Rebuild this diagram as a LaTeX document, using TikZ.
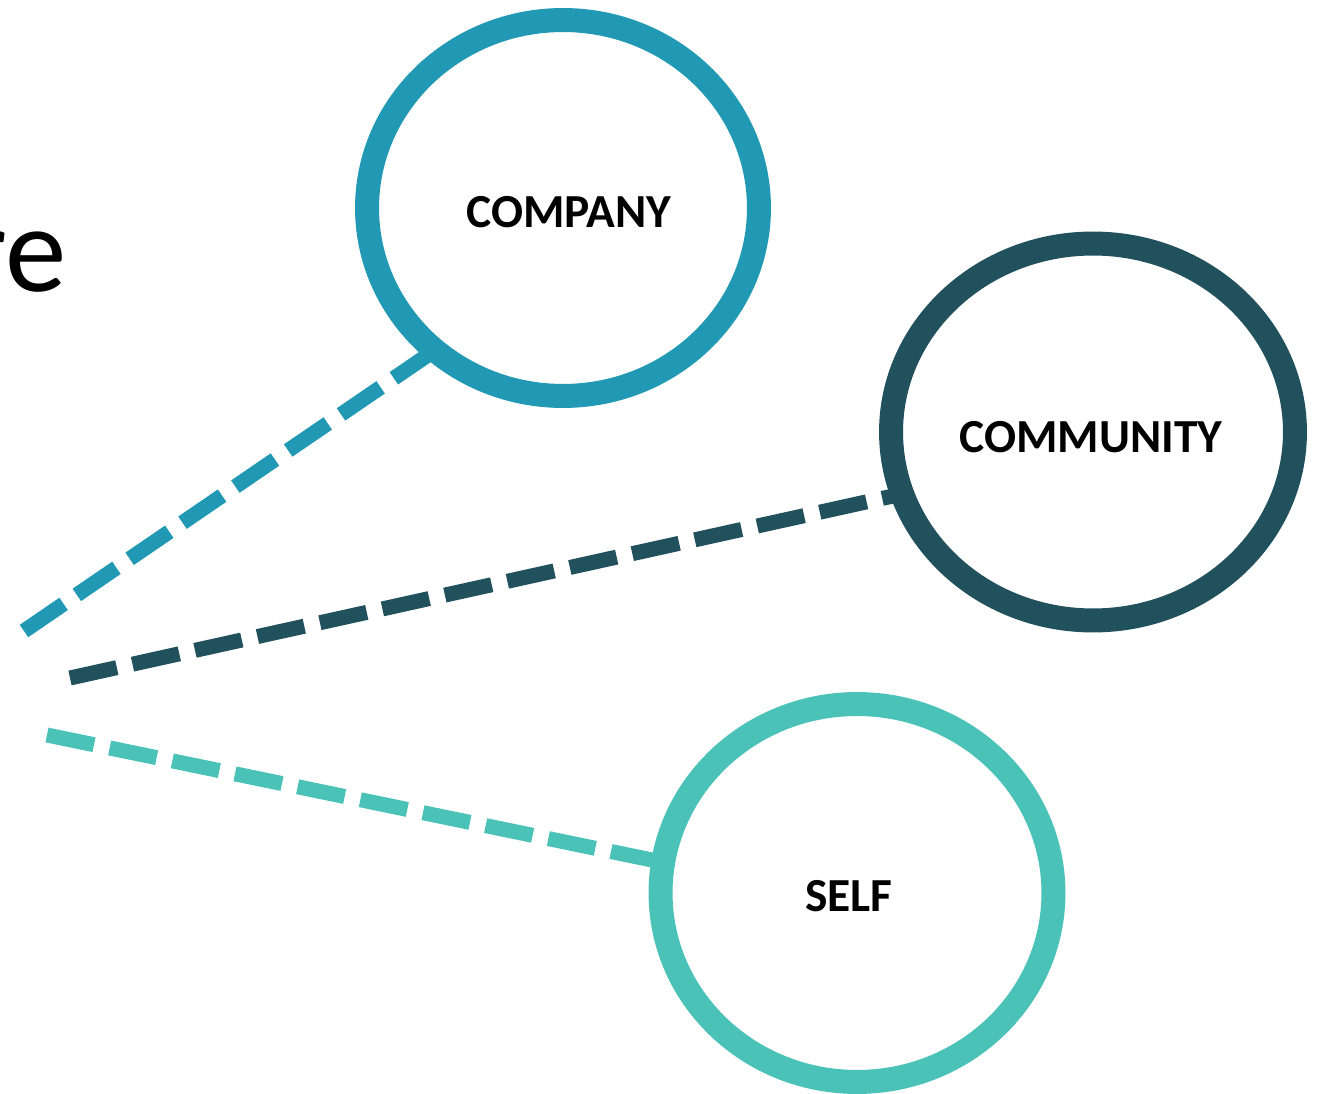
\documentclass[tikz,border=0pt]{standalone}
\usepackage{fontspec}
\setmainfont{Carlito}
\usetikzlibrary{shapes.geometric}

\definecolor{companyblue}{HTML}{2199B4}
\definecolor{communitydark}{HTML}{22515E}
\definecolor{selfteal}{HTML}{4BC2B8}

\begin{document}
\begin{tikzpicture}[x=0.02cm, y=-0.02cm,
    ring/.style={draw, ellipse, line width=0.48cm, inner sep=0, outer sep=0},
    ringlabel/.style={inner sep=0, font=\fontsize{27}{29}\selectfont\bfseries},
    link/.style={line width=0.3cm, dash pattern=on 0.96cm off 0.32cm}]
    \useasboundingbox (0,0) rectangle (1322,1094);

    \node[anchor=base east, inner sep=0, font=\fontsize{70}{72}\selectfont] (word) at (67,292) {re};

    % the three rings
    \node[ring, companyblue, minimum width=7.84cm, minimum height=7.52cm] (company) at (563,208) {};
    \node[ring, communitydark, minimum width=8.08cm, minimum height=7.54cm] (community) at (1093,432) {};
    \node[ring, selfteal, minimum width=7.86cm, minimum height=7.56cm] (self) at (857,893) {};

    \node[ringlabel] (companylabel) at ([shift={(6,4)}]company.center) {COMPANY};
    \node[ringlabel] (communitylabel) at ([shift={(-2,5)}]community.center) {COMMUNITY};
    \node[ringlabel] (selflabel) at ([shift={(-8,3)}]self.center) {SELF};

    % free ends on the left
    \coordinate (companystart) at (24,631);
    \coordinate (communitystart) at (70,678);
    \coordinate (selfstart) at (47,735);

    \draw[link, companyblue] (companystart) -- (company.228);
    \draw[link, communitydark] (communitystart) -- (community.198);
    \draw[link, selfteal] (selfstart) -- (self.171);

\end{tikzpicture}
\end{document}
